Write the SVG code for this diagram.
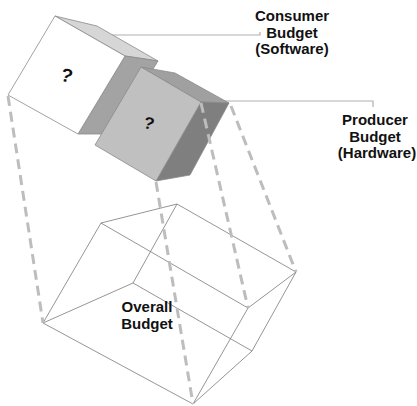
<svg xmlns="http://www.w3.org/2000/svg" width="417" height="406" viewBox="0 0 417 406">
<style>
.face{stroke:#8a8a8a;stroke-width:0.8;stroke-linejoin:round}
.wire{fill:none;stroke:#7a7a7a;stroke-width:0.8}
.dash{fill:none;stroke:#bdbdbd;stroke-width:3;stroke-dasharray:10 6}
.lead{fill:none;stroke:#b0b0b0;stroke-width:1.2}
.lbl{font-family:"Liberation Sans",Arial,sans-serif;font-weight:bold;font-size:15px;fill:#111;text-anchor:middle}
.q{font-family:"Liberation Sans",Arial,sans-serif;font-weight:bold;fill:#111;text-anchor:middle}
</style>
<rect width="417" height="406" fill="#fff"/>
<g id="overall">
<path class="wire" d="M43,323 L101,223 L177,204 L133,283 Z M193,404 L248,308 L296,272 L252,351 Z M43,323 L193,404 M101,223 L248,308 M177,204 L296,272 M133,283 L252,351"/>
<text class="lbl" x="147" y="312">Overall</text>
<text class="lbl" x="147" y="329">Budget</text>
</g>
<g id="connectors">
<path class="lead" d="M90,35 H260 V32"/>
<path class="lead" d="M213,101 H373 V107"/>
</g>
<g id="consumer">
<polygon class="face" fill="#d6d6d6" points="55,16 97,26 158,61 125,56"/>
<polygon class="face" fill="#a3a3a3" points="125,56 158,61 113,134 78,134"/>
<polygon class="face" fill="#ffffff" points="55,16 125,56 78,134 8,95"/>
<text class="q" font-size="19" x="67" y="82" transform="rotate(15 67 75)">?</text>
</g>
<g id="producer">
<polygon class="face" fill="#a0a0a0" points="141,67 175,73 229,103 201,102"/>
<polygon class="face" fill="#7f7f7f" points="201,102 229,103 190,175 156,181"/>
<polygon class="face" fill="#c0c0c0" points="141,67 201,102 156,181 95,145"/>
<text class="q" font-size="17" x="149" y="129" transform="rotate(15 149 123)">?</text>
</g>
<g id="projection">
<line class="dash" x1="8" y1="96" x2="43" y2="323"/>
<line class="dash" x1="156" y1="182" x2="193" y2="404"/>
<line class="dash" x1="201" y1="103" x2="248" y2="308"/>
<line class="dash" x1="231" y1="106" x2="296" y2="272"/>
</g>
<g id="labels">
<text class="lbl" x="292" y="21">Consumer</text>
<text class="lbl" x="292" y="37.5">Budget</text>
<text class="lbl" x="292" y="54">(Software)</text>
<text class="lbl" x="375" y="125">Producer</text>
<text class="lbl" x="375" y="141.5">Budget</text>
<text class="lbl" x="377" y="158">(Hardware)</text>
</g>
</svg>
